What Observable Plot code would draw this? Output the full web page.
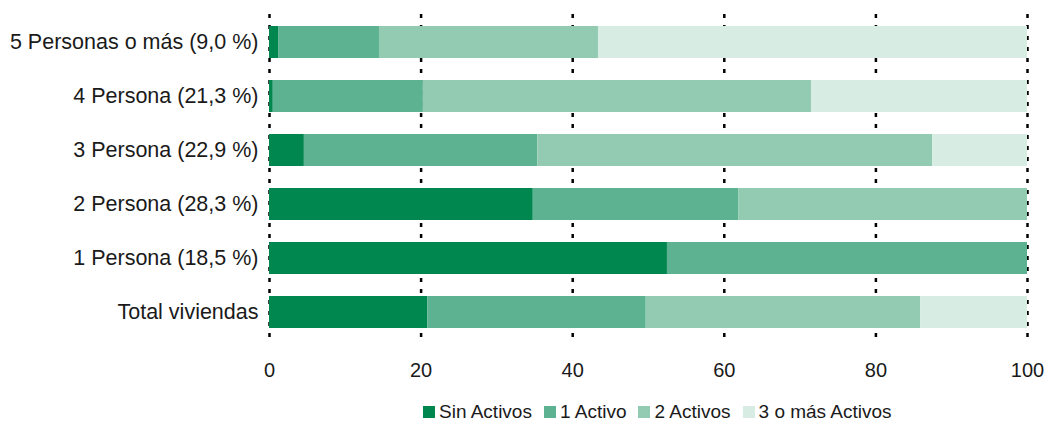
<!DOCTYPE html>
<html>
<head>
<meta charset="utf-8">
<script src="https://cdn.jsdelivr.net/npm/d3@7"></script>
<script src="https://cdn.jsdelivr.net/npm/@observablehq/plot@0.6"></script>
<style>
  body { margin: 0; background: #fff; font-family: "Liberation Sans", Arial, sans-serif; }
  #wrap { position: relative; width: 1047px; height: 421px; }
  #legend { position: absolute; left: 423px; top: 401px; display: flex; align-items: center; font-size: 19px; color: #1a1a1a; line-height: 22px; white-space: nowrap; }
  .item { display: flex; align-items: center; margin-right: 12px; }
  .sw { width: 12px; height: 12px; margin-right: 4px; }
</style>
</head>
<body>
<div id="wrap">
<div id="chart"></div>
<div id="legend"></div>
</div>
<script>
const categories = ["5 Personas o más (9,0 %)", "4 Persona (21,3 %)", "3 Persona (22,9 %)", "2 Persona (28,3 %)", "1 Persona (18,5 %)", "Total viviendas"];
const seriesNames = ["Sin Activos", "1 Activo", "2 Activos", "3 o más Activos"];
const sinActivos   = [1.2, 0.5, 4.6, 34.8, 52.5, 20.9];
const unActivo     = [13.4, 19.8, 30.8, 27.1, 47.5, 28.8];
const dosActivos   = [28.8, 51.2, 52.1, 38.1, 0, 36.2];
const tresOMas     = [56.6, 28.5, 12.5, 0, 0, 14.1];
const xTicks = [0, 20, 40, 60, 80, 100];
const colors = ["#00874f", "#5db391", "#92cbb2", "#d7ece2"];

const seriesValues = [sinActivos, unActivo, dosActivos, tresOMas];
const rows = [];
categories.forEach((c, i) => {
  seriesNames.forEach((s, j) => rows.push({category: c, series: s, value: seriesValues[j][i]}));
});

const chart = Plot.plot({
  width: 1047,
  height: 385,
  marginLeft: 269,
  marginRight: 20,
  marginTop: 14,
  marginBottom: 45,
  style: {fontSize: "19px", fontFamily: "'Liberation Sans', Arial, sans-serif", color: "#1a1a1a"},
  x: {domain: [0, 100], label: null},
  y: {domain: categories, paddingInner: 0.41, paddingOuter: 0.2, label: null},
  color: {domain: seriesNames, range: colors},
  marks: [
    Plot.ruleX(xTicks, {stroke: "#000", strokeWidth: 2.5, strokeDasharray: "4,7"}),
    Plot.barX(rows, Plot.stackX({y: "category", x: "value", fill: "series"})),
    Plot.axisX({ticks: xTicks, tickSize: 0, tickPadding: 22, fontSize: 20, label: null}),
    Plot.axisY({tickSize: 0, tickPadding: 11, fontSize: 21.5, label: null})
  ]
});
document.getElementById("chart").appendChild(chart);

const legend = document.getElementById("legend");
seriesNames.forEach((s, j) => {
  const item = document.createElement("div");
  item.className = "item";
  const sw = document.createElement("div");
  sw.className = "sw";
  sw.style.background = colors[j];
  const t = document.createElement("span");
  t.textContent = s;
  item.appendChild(sw); item.appendChild(t);
  legend.appendChild(item);
});
</script>
</body>
</html>
